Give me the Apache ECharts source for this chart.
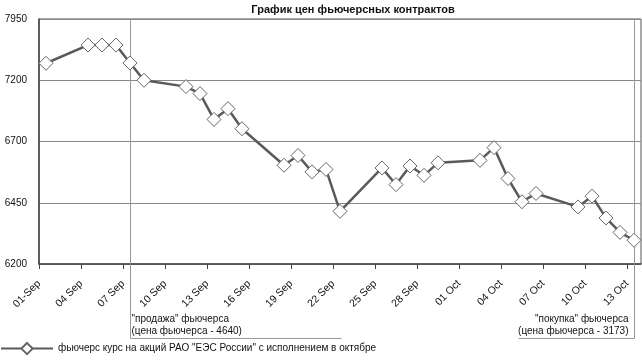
<!DOCTYPE html>
<html>
<head>
<meta charset="utf-8">
<script src="https://cdn.jsdelivr.net/npm/echarts@6/dist/echarts.min.js"></script>
<style>
html,body{margin:0;padding:0;background:#fff;}
#chart{width:642px;height:361px;}
</style>
</head>
<body>
<div id="chart"></div>
<script>
// ---- data ----
const titleText = 'График цен фьючерсных контрактов';
const seriesName = 'фьючерс курс на акций РАО "ЕЭС России" с исполнением в октябре';
const categories = ['2006-09-01','2006-09-04','2006-09-05','2006-09-06','2006-09-07','2006-09-08',
  '2006-09-11','2006-09-12','2006-09-13','2006-09-14','2006-09-15',
  '2006-09-18','2006-09-19','2006-09-20','2006-09-21','2006-09-22',
  '2006-09-25','2006-09-26','2006-09-27','2006-09-28','2006-09-29',
  '2006-10-02','2006-10-03','2006-10-04','2006-10-05','2006-10-06',
  '2006-10-09','2006-10-10','2006-10-11','2006-10-12','2006-10-13'];
const futuresPrice = [7408,7631,7631,7631,7412,7200,
  7148,7091,6880,6968,6804,
  6603,6643,6576,6586,6415,
  6592,6524,6600,6562,6613,
  6623,6675,6549,6454,6488,
  6433,6477,6388,6329,6297];
const xTickLabels = ['01-Sep','04 Sep','07 Sep','10 Sep','13 Sep','16 Sep','19 Sep','22 Sep',
  '25 Sep','28 Sep','01 Oct','04 Oct','07 Oct','10 Oct','13 Oct'];
const yTickValues = [6200,6450,6700,7200,7950];
const yTickLabels = ['6200','6450','6700','7200','7950'];
const axisStart = '2006-09-01';
const axisEnd = '2006-10-14';
const annotations = [
  {date:'2006-09-07', lines:['"продажа" фьючерса','(цена фьючерса - 4640)'], side:'right'},
  {date:'2006-10-13', lines:['"покупка" фьючерса','(цена фьючерса - 3173)'], side:'left'}
];

// ---- helpers ----
const DAY = 86400000;
function dayIndex(s){ return Math.round((Date.parse(s) - Date.parse(axisStart)) / DAY); }
function toAxis(v){
  for (let i = 0; i < yTickValues.length - 1; i++) {
    const a = yTickValues[i], b = yTickValues[i+1];
    if (v <= b || i === yTickValues.length - 2) return i + (v - a) / (b - a);
  }
}
const xMax = dayIndex(axisEnd);
const seriesData = categories.map((d, i) => [dayIndex(d) + 0.5, toAxis(futuresPrice[i])]);

const FONT = '"Liberation Sans", Arial, sans-serif';
const chart = echarts.init(document.getElementById('chart'), null, {renderer:'canvas'});
const option = {
  animation: false,
  backgroundColor: '#fff',
  textStyle: {fontFamily: FONT},
  title: {
    text: titleText, left: 348, top: -1, textAlign: 'center',
    textStyle: {fontFamily: FONT, fontSize: 11, fontWeight: 'bold', color: '#111'}
  },
  grid: {left: 39, right: 1, top: 19, bottom: 97, show: true, borderColor: '#555', borderWidth: 1},
  legend: {
    left: -5, top: 337, itemWidth: 52, itemHeight: 14, itemGap: 4,
    textStyle: {fontFamily: FONT, fontSize: 10, color: '#111'},
    data: [seriesName]
  },
  xAxis: {
    type: 'value', min: 0, max: xMax, interval: 3,
    axisLine: {show: true, lineStyle: {color: '#444', width: 1.5}},
    axisTick: {show: true, length: 5, lineStyle: {color: '#444'}},
    splitLine: {show: false},
    axisLabel: {
      rotate: 45, margin: 18, fontSize: 10.5, color: '#111', fontFamily: FONT,
      showMaxLabel: false,
      formatter: v => (v % 3 === 0 ? (xTickLabels[v / 3] || '') : '')
    }
  },
  yAxis: {
    type: 'value', min: 0, max: yTickValues.length - 1, interval: 1,
    axisLine: {show: true, lineStyle: {color: '#444', width: 1.5}},
    axisTick: {show: false},
    splitLine: {show: true, lineStyle: {color: '#888', width: 1}},
    axisLabel: {
      margin: 12, fontSize: 10, color: '#111', fontFamily: FONT,
      formatter: v => yTickLabels[Math.round(v)]
    }
  },
  series: [{
    name: seriesName, type: 'line', data: seriesData,
    lineStyle: {color: '#5a5a5a', width: 2.5},
    itemStyle: {color: '#fff', borderColor: '#666', borderWidth: 1},
    symbol: 'diamond', symbolSize: 14, showSymbol: true
  }]
};
chart.setOption(option);

// annotation boxes positioned through the chart's own coordinate conversion
const gfx = [];
annotations.forEach(a => {
  const xd = dayIndex(a.date) + 0.5;
  const top = chart.convertToPixel({gridIndex: 0}, [xd, yTickValues.length - 1]);
  const bot = chart.convertToPixel({gridIndex: 0}, [xd, 0]);
  const x = Math.round(top[0]) + 0.5;
  const yBottom = Math.round(bot[1] + 74) + 0.5;
  const w = a.side === 'right' ? 211 : -116;
  gfx.push({type: 'line', silent: true, z: 1,
    shape: {x1: x, y1: top[1], x2: x, y2: yBottom},
    style: {stroke: '#999', lineWidth: 1}});
  gfx.push({type: 'line', silent: true, z: 1,
    shape: {x1: x, y1: yBottom, x2: x + w, y2: yBottom},
    style: {stroke: '#999', lineWidth: 1}});
  a.lines.forEach((t, k) => {
    gfx.push({type: 'text', silent: true, z: 5,
      x: a.side === 'right' ? x + 1 : x - 6,
      y: yBottom - 19 + k * 12,
      style: {text: t, fill: '#111', font: '10px ' + FONT,
        align: a.side === 'right' ? 'left' : 'right', verticalAlign: 'middle'}});
  });
});
chart.setOption({graphic: gfx});
</script>
</body>
</html>
